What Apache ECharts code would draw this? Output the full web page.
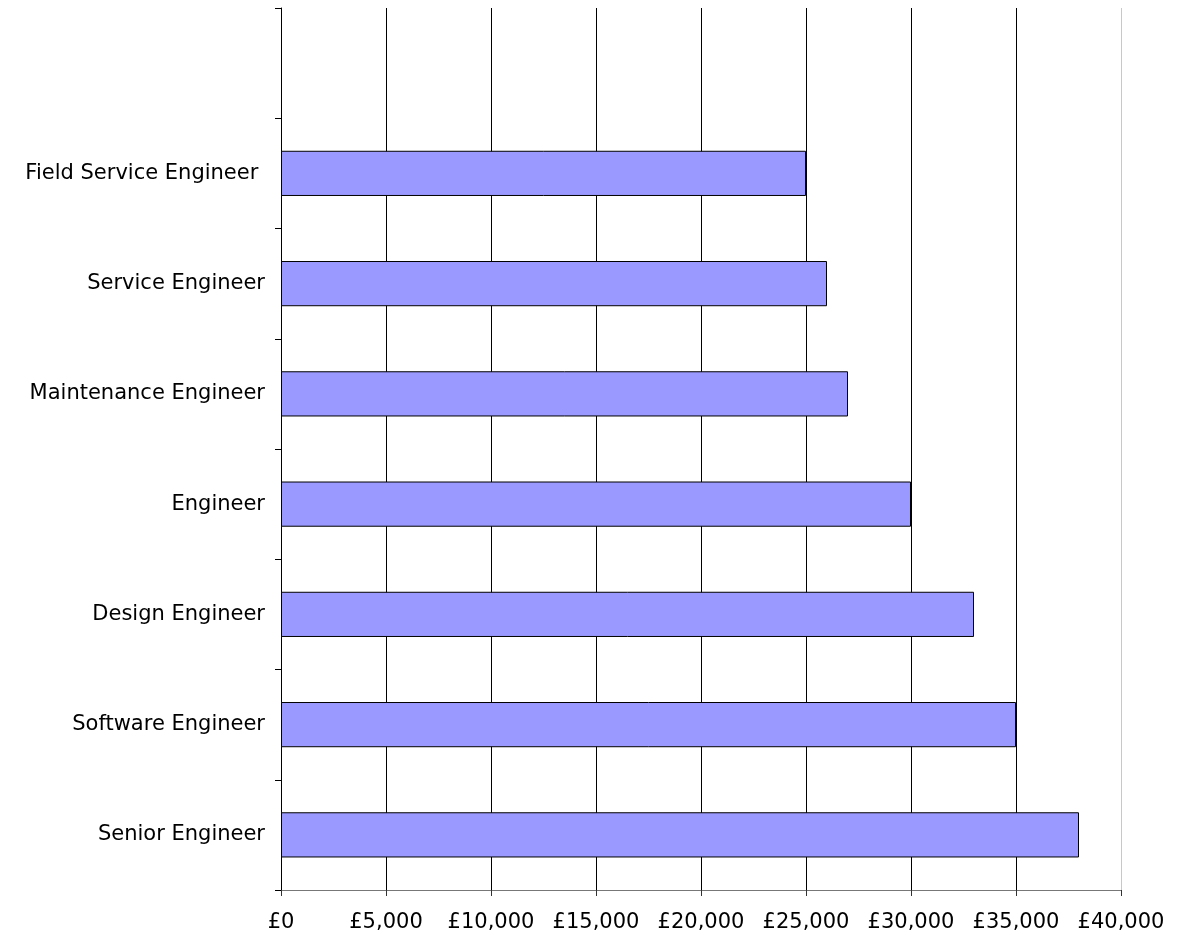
<!DOCTYPE html>
<html>
<head>
<meta charset="utf-8">
<script src="https://cdn.jsdelivr.net/npm/echarts@6/dist/echarts.min.js"></script>
<style>
html,body{margin:0;padding:0;background:#fff;}
#chart{width:1177px;height:943px;}
</style>
</head>
<body>
<div id="chart"></div>
<script>
// Data (bottom to top)
const categories = ['Senior Engineer', 'Software Engineer', 'Design Engineer', 'Engineer', 'Maintenance Engineer', 'Service Engineer', 'Field Service Engineer ', ''];
const salaries = [38000, 35000, 33000, 30000, 27000, 26000, 25000, null];
const xMin = 0, xMax = 40000, xStep = 5000;

const chart = echarts.init(document.getElementById('chart'), null, {renderer: 'canvas'});
const font = 'DejaVu Sans, Verdana, sans-serif';
const gridColors = ['#000', '#000', '#000', '#000', '#000', '#000', '#000', '#000', '#c8c8c8'];

chart.setOption({
  animation: false,
  backgroundColor: '#fff',
  grid: {left: 281, right: 56, top: 8, bottom: 53, containLabel: false},
  xAxis: {
    type: 'value',
    min: xMin, max: xMax, interval: xStep,
    axisLine: {show: true, lineStyle: {color: '#777', width: 1}},
    axisTick: {show: true, length: 6, lineStyle: {color: '#333'}},
    splitLine: {show: true, showMinLine: true, showMaxLine: true, lineStyle: {color: gridColors, width: 1}},
    axisLabel: {
      color: '#000', fontFamily: font, fontSize: 21, margin: 22,
      formatter: v => '£' + v.toLocaleString('en-GB')
    }
  },
  yAxis: {
    type: 'category',
    data: categories,
    axisLine: {show: true, lineStyle: {color: '#000', width: 1}},
    axisTick: {show: true, length: 6, lineStyle: {color: '#000'}},
    splitLine: {show: false},
    axisLabel: {color: '#000', fontFamily: font, fontSize: 21, margin: 16}
  },
  series: [{
    type: 'bar',
    data: salaries,
    barWidth: '41%',
    itemStyle: {color: '#9999ff', borderColor: '#000', borderWidth: 1}
  }]
});
</script>
</body>
</html>
